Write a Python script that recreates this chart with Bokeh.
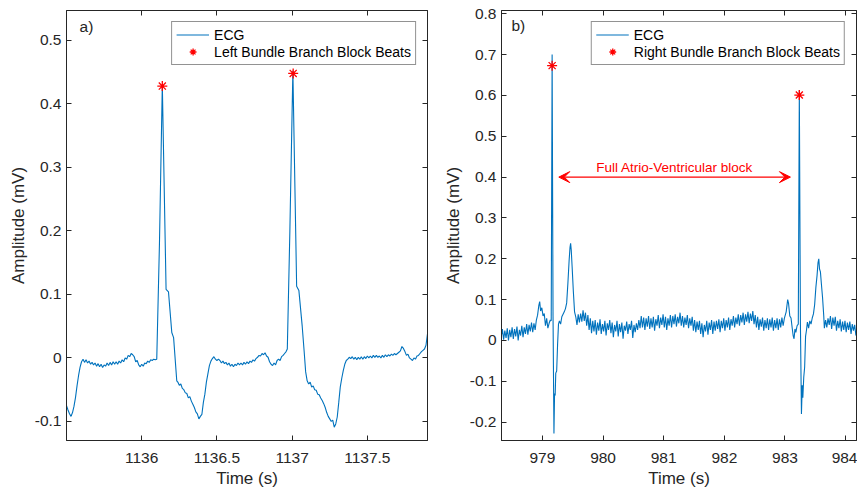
from bokeh.plotting import figure
from bokeh.layouts import row
from bokeh.models import (Range1d, LinearAxis, FixedTicker, CustomJSTickFormatter,
                          Arrow, VeeHead, Label)
from bokeh.embed import file_html
from bokeh.resources import INLINE

# ---------------- data: panel a) (LBBB) ----------------
ecg_a_time = [
    1135.50, 1135.51, 1135.52, 1135.53, 1135.54, 1135.55, 1135.56, 1135.57, 1135.58, 1135.59,
    1135.60, 1135.61, 1135.62, 1135.63, 1135.64, 1135.65, 1135.66, 1135.67, 1135.68, 1135.69,
    1135.70, 1135.71, 1135.72, 1135.73, 1135.74, 1135.75, 1135.76, 1135.77, 1135.78, 1135.79,
    1135.80, 1135.81, 1135.82, 1135.83, 1135.84, 1135.85, 1135.86, 1135.87, 1135.88, 1135.89,
    1135.90, 1135.91, 1135.92, 1135.93, 1135.94, 1135.95, 1135.96, 1135.97, 1135.98, 1135.99,
    1136.00, 1136.01, 1136.02, 1136.03, 1136.04, 1136.05, 1136.06, 1136.07, 1136.08, 1136.09,
    1136.100, 1136.118, 1136.137, 1136.162, 1136.178, 1136.200, 1136.212, 1136.233,
    1136.24, 1136.25, 1136.26, 1136.27, 1136.28, 1136.29, 1136.30, 1136.31, 1136.32, 1136.33,
    1136.34, 1136.35, 1136.36, 1136.37, 1136.38, 1136.39, 1136.40, 1136.41, 1136.42, 1136.43,
    1136.44, 1136.45, 1136.46, 1136.47, 1136.48, 1136.49, 1136.50, 1136.51, 1136.52, 1136.53,
    1136.54, 1136.55, 1136.56, 1136.57, 1136.58, 1136.59, 1136.60, 1136.61, 1136.62, 1136.63,
    1136.64, 1136.65, 1136.66, 1136.67, 1136.68, 1136.69, 1136.70, 1136.71, 1136.72, 1136.73,
    1136.74, 1136.75, 1136.76, 1136.77, 1136.78, 1136.79, 1136.80, 1136.81, 1136.82, 1136.83,
    1136.84, 1136.85, 1136.86, 1136.87, 1136.88, 1136.89, 1136.90, 1136.91, 1136.92, 1136.93,
    1136.94, 1136.95, 1136.96,
    1136.968, 1136.985, 1137.005, 1137.030, 1137.045, 1137.067, 1137.080, 1137.090,
    1137.10, 1137.11, 1137.12, 1137.13, 1137.14, 1137.15, 1137.16, 1137.17, 1137.18, 1137.19,
    1137.20, 1137.21, 1137.22, 1137.23, 1137.24, 1137.25, 1137.26, 1137.27, 1137.28, 1137.29,
    1137.30, 1137.31, 1137.32, 1137.33, 1137.34, 1137.35, 1137.36, 1137.37, 1137.38, 1137.39,
    1137.40, 1137.41, 1137.42, 1137.43, 1137.44, 1137.45, 1137.46, 1137.47, 1137.48, 1137.49,
    1137.50, 1137.51, 1137.52, 1137.53, 1137.54, 1137.55, 1137.56, 1137.57, 1137.58, 1137.59,
    1137.60, 1137.61, 1137.62, 1137.63, 1137.64, 1137.65, 1137.66, 1137.67, 1137.68, 1137.69,
    1137.70, 1137.71, 1137.72, 1137.73, 1137.74, 1137.75, 1137.76, 1137.77, 1137.78, 1137.79,
    1137.80, 1137.81, 1137.82, 1137.83, 1137.84, 1137.85, 1137.86, 1137.87, 1137.88, 1137.89,
    1137.90,
]
ecg_a_mv = [
    -0.075, -0.082, -0.088, -0.092, -0.086, -0.076, -0.062, -0.044, -0.028, -0.015,
    -0.006, -0.002, -0.007, -0.003, -0.008, -0.005, -0.010, -0.007, -0.011, -0.008,
    -0.013, -0.009, -0.014, -0.010, -0.015, -0.011, -0.013, -0.008, -0.012, -0.007,
    -0.011, -0.006, -0.010, -0.006, -0.010, -0.005, -0.008, -0.003, -0.006, 0.000,
    -0.002, 0.004, 0.002, 0.007, 0.005, 0.002, -0.006, -0.004, -0.011, -0.014,
    -0.010, -0.013, -0.008, -0.009, -0.005, -0.007, -0.003, -0.004, -0.002, -0.003,
    -0.002, 0.180, 0.430, 0.108, 0.104, 0.040, 0.032, -0.036,
    -0.038, -0.043, -0.041, -0.048, -0.050, -0.055, -0.056, -0.063, -0.061, -0.068,
    -0.073, -0.078, -0.085, -0.088, -0.096, -0.092, -0.089, -0.070, -0.057, -0.038,
    -0.025, -0.012, -0.005, -0.001, 0.002, -0.002, -0.004, -0.002, -0.004, -0.008,
    -0.005, -0.009, -0.007, -0.011, -0.008, -0.013, -0.010, -0.014, -0.010, -0.012,
    -0.008, -0.011, -0.008, -0.011, -0.007, -0.010, -0.006, -0.009, -0.005, -0.007,
    -0.003, -0.005, -0.001, 0.001, 0.004, 0.003, 0.007, 0.005, 0.008, 0.003,
    0.001, -0.006, -0.010, -0.012, -0.008, -0.011, -0.004, -0.002, -0.004, 0.002,
    0.004, 0.007, 0.010,
    0.014, 0.200, 0.452, 0.113, 0.106, 0.050, 0.010, -0.022,
    -0.036, -0.041, -0.038, -0.046, -0.044, -0.050, -0.051, -0.057, -0.058, -0.063,
    -0.067, -0.072, -0.078, -0.086, -0.092, -0.096, -0.100, -0.098, -0.109, -0.104,
    -0.093, -0.070, -0.046, -0.032, -0.020, -0.010, -0.004, -0.002, 0.001, -0.001,
    0.002, -0.002, 0.001, -0.003, 0.001, -0.002, 0.002, -0.002, 0.002, -0.001,
    0.003, 0.000, 0.003, 0.000, 0.004, 0.001, 0.004, 0.001, 0.003, 0.000,
    0.004, 0.001, 0.005, 0.002, 0.005, 0.003, 0.006, 0.004, 0.007, 0.005,
    0.007, 0.009, 0.011, 0.018, 0.015, 0.010, 0.004, 0.006, 0.000, -0.002,
    -0.004, 0.000, -0.002, 0.003, 0.004, 0.007, 0.010, 0.012, 0.014, 0.020,
    0.038,
]
lbbb_time = [1136.137, 1137.007]
lbbb_mv = [0.428, 0.448]

# ---------------- data: panel b) (RBBB) ----------------
ecg_b_time = [
    978.32, 978.34, 978.36, 978.38, 978.40, 978.42, 978.44, 978.46, 978.48, 978.50,
    978.52, 978.54, 978.56, 978.58, 978.60, 978.62, 978.64, 978.66, 978.68, 978.70,
    978.72, 978.74, 978.76, 978.78, 978.80, 978.82, 978.84, 978.86, 978.88, 978.90,
    978.92,
    978.940, 978.955, 978.970, 978.990, 979.010, 979.030, 979.050, 979.070, 979.090, 979.110,
    979.130, 979.145, 979.160, 979.175, 979.190, 979.200, 979.210, 979.220, 979.235, 979.250,
    979.265, 979.280, 979.300, 979.320, 979.340, 979.360, 979.380, 979.400, 979.420, 979.440,
    979.455, 979.465, 979.475, 979.490, 979.510, 979.530, 979.550,
    979.57, 979.59, 979.61, 979.63, 979.65, 979.67, 979.69, 979.71, 979.73, 979.75,
    979.77, 979.79, 979.81, 979.83, 979.85, 979.87, 979.89, 979.91, 979.93, 979.95,
    979.97, 979.99, 980.01, 980.03, 980.05, 980.07, 980.09, 980.11, 980.13, 980.15,
    980.17, 980.19, 980.21, 980.23, 980.25, 980.27, 980.29, 980.31, 980.33, 980.35,
    980.37, 980.39, 980.41, 980.43, 980.45, 980.47, 980.49, 980.51, 980.53, 980.55,
    980.57, 980.59, 980.61, 980.63, 980.65, 980.67, 980.69, 980.71, 980.73, 980.75,
    980.77, 980.79, 980.81, 980.83, 980.85, 980.87, 980.89, 980.91, 980.93, 980.95,
    980.97, 980.99, 981.01, 981.03, 981.05, 981.07, 981.09, 981.11, 981.13, 981.15,
    981.17, 981.19, 981.21, 981.23, 981.25, 981.27, 981.29, 981.31, 981.33, 981.35,
    981.37, 981.39, 981.41, 981.43, 981.45, 981.47, 981.49, 981.51, 981.53, 981.55,
    981.57, 981.59, 981.61, 981.63, 981.65, 981.67, 981.69, 981.71, 981.73, 981.75,
    981.77, 981.79, 981.81, 981.83, 981.85, 981.87, 981.89, 981.91, 981.93, 981.95,
    981.97, 981.99, 982.01, 982.03, 982.05, 982.07, 982.09, 982.11, 982.13, 982.15,
    982.17, 982.19, 982.21, 982.23, 982.25, 982.27, 982.29, 982.31, 982.33, 982.35,
    982.37, 982.39, 982.41, 982.43, 982.45, 982.47, 982.49, 982.51, 982.53, 982.55,
    982.57, 982.59, 982.61, 982.63, 982.65, 982.67, 982.69, 982.71, 982.73, 982.75,
    982.77, 982.79, 982.81, 982.83, 982.85, 982.87, 982.89, 982.91, 982.93, 982.95,
    982.97, 982.99,
    983.020, 983.045, 983.060, 983.080, 983.100, 983.120, 983.135, 983.150, 983.165, 983.180,
    983.200, 983.220, 983.237, 983.255, 983.272, 983.285, 983.295, 983.310, 983.325, 983.340,
    983.355, 983.370, 983.390, 983.410, 983.430, 983.450, 983.470, 983.490, 983.510, 983.530,
    983.545, 983.558, 983.570, 983.585, 983.600, 983.620, 983.640, 983.650,
    983.67, 983.69, 983.71, 983.73, 983.75, 983.77, 983.79, 983.81, 983.83, 983.85,
    983.87, 983.89, 983.91, 983.93, 983.95, 983.97, 983.99, 984.01, 984.03, 984.05,
    984.07, 984.09, 984.11, 984.13, 984.15, 984.17, 984.19,
]
ecg_b_mv = [
    0.008, 0.028, 0.002, 0.024, 0.006, 0.030, 0.000, 0.026, 0.008, 0.032,
    0.004, 0.028, 0.010, 0.034, 0.000, 0.026, 0.012, 0.036, 0.008, 0.032,
    0.016, 0.040, 0.014, 0.038, 0.022, 0.044, 0.020, 0.042, 0.026, 0.050,
    0.062,
    0.085, 0.095, 0.072, 0.080, 0.060, 0.066, 0.036, 0.054, 0.030, 0.042,
    0.050, 0.048, 0.700, 0.060, -0.228, -0.130, -0.135, -0.080, -0.075, -0.010,
    0.040, 0.048, 0.040, 0.058, 0.064, 0.070, 0.078, 0.092, 0.140, 0.195,
    0.228, 0.238, 0.222, 0.180, 0.120, 0.070, 0.058,
    0.038, 0.064, 0.044, 0.066, 0.046, 0.074, 0.048, 0.068, 0.036, 0.062,
    0.026, 0.054, 0.018, 0.048, 0.022, 0.050, 0.014, 0.044, 0.024, 0.052,
    0.016, 0.040, 0.022, 0.048, 0.012, 0.042, 0.026, 0.050, 0.018, 0.044,
    0.008, 0.038, 0.022, 0.048, 0.010, 0.040, 0.020, 0.044, 0.004, 0.036,
    0.024, 0.046, 0.016, 0.040, 0.026, 0.048, 0.006, 0.038, 0.020, 0.042,
    0.026, 0.050, 0.030, 0.060, 0.032, 0.056, 0.026, 0.054, 0.034, 0.060,
    0.028, 0.054, 0.032, 0.058, 0.024, 0.052, 0.036, 0.062, 0.030, 0.056,
    0.038, 0.064, 0.032, 0.058, 0.026, 0.054, 0.036, 0.062, 0.032, 0.060,
    0.040, 0.064, 0.034, 0.058, 0.042, 0.068, 0.036, 0.060, 0.032, 0.056,
    0.038, 0.062, 0.030, 0.054, 0.036, 0.058, 0.024, 0.050, 0.020, 0.046,
    0.026, 0.048, 0.016, 0.042, 0.008, 0.038, 0.022, 0.048, 0.014, 0.044,
    0.026, 0.050, 0.016, 0.046, 0.024, 0.048, 0.028, 0.052, 0.020, 0.048,
    0.030, 0.054, 0.024, 0.050, 0.032, 0.056, 0.026, 0.052, 0.036, 0.060,
    0.032, 0.056, 0.040, 0.064, 0.036, 0.062, 0.044, 0.068, 0.038, 0.064,
    0.046, 0.070, 0.042, 0.066, 0.048, 0.072, 0.040, 0.062, 0.032, 0.058,
    0.026, 0.052, 0.034, 0.056, 0.024, 0.050, 0.030, 0.054, 0.026, 0.052,
    0.032, 0.056, 0.024, 0.050, 0.030, 0.054, 0.026, 0.052, 0.032, 0.056,
    0.036, 0.054,
    0.070, 0.100, 0.090, 0.060, 0.055, 0.030, 0.012, 0.004, 0.028, 0.020,
    0.036, 0.040, 0.613, 0.040, -0.180, -0.110, -0.140, -0.090, -0.065, 0.010,
    0.025, 0.045, 0.030, 0.048, 0.040, 0.055, 0.065, 0.088, 0.130, 0.160,
    0.190, 0.200, 0.175, 0.168, 0.140, 0.105, 0.060, 0.030,
    0.050, 0.032, 0.054, 0.038, 0.060, 0.028, 0.056, 0.036, 0.058, 0.024,
    0.048, 0.030, 0.052, 0.022, 0.046, 0.026, 0.048, 0.020, 0.044, 0.026,
    0.046, 0.016, 0.040, 0.024, 0.038, 0.012, 0.022,
]
rbbb_time = [979.16, 983.237]
rbbb_mv = [0.673, 0.601]

# annotation in panel b)
block_span = [979.27, 983.09]
block_level = 0.40
block_text = "Full Atrio-Ventricular block"

# ticks
xticks_a = [1136, 1136.5, 1137, 1137.5]
yticks_a = [-0.1, 0, 0.1, 0.2, 0.3, 0.4, 0.5]
xticks_b = [979, 980, 981, 982, 983, 984]
yticks_b = [-0.2, -0.1, 0, 0.1, 0.2, 0.3, 0.4, 0.5, 0.6, 0.7, 0.8]

assert len(ecg_a_time) == len(ecg_a_mv)
assert len(ecg_b_time) == len(ecg_b_mv)

FONT = "Liberation Sans"
DARK = "#262626"
BLUE = "#0072BD"
TICK_FS = "15.5px"
LABEL_FS = "17px"
HEIGHT = 490


def make_panel(width, border_left, border_right, xr, yr, xticks, yticks):
    p = figure(width=width, height=HEIGHT, x_range=Range1d(*xr), y_range=Range1d(*yr),
               output_backend="svg", toolbar_location=None,
               min_border_left=border_left, min_border_right=border_right,
               min_border_top=10, min_border_bottom=50,
               background_fill_color="white", border_fill_color="white")
    p.grid.visible = False
    p.outline_line_color = DARK
    p.outline_line_width = 1
    fmt = CustomJSTickFormatter(code="return String(Math.round(tick*1000)/1000);")
    for ax, ticks in ((p.xaxis[0], xticks), (p.yaxis[0], yticks)):
        ax.ticker = FixedTicker(ticks=ticks)
        ax.formatter = fmt
        ax.major_tick_in = 5
        ax.major_tick_out = 0
        ax.minor_tick_line_color = None
        ax.axis_line_color = DARK
        ax.major_tick_line_color = DARK
        ax.major_label_text_color = DARK
        ax.major_label_text_font = FONT
        ax.major_label_text_font_size = TICK_FS
        ax.axis_label_text_font = FONT
        ax.axis_label_text_font_size = LABEL_FS
        ax.axis_label_text_font_style = "normal"
        ax.axis_label_text_color = DARK
    p.xaxis[0].major_label_standoff = 12
    p.xaxis[0].axis_label_standoff = 3
    p.yaxis[0].major_label_standoff = 5
    p.yaxis[0].axis_label_standoff = 4
    p.xaxis[0].axis_label = "Time (s)"
    p.yaxis[0].axis_label = "Amplitude (mV)"
    blank = CustomJSTickFormatter(code="return '';")
    for side, ticks in (("above", xticks), ("right", yticks)):
        ax = LinearAxis(ticker=FixedTicker(ticks=ticks), formatter=blank,
                        major_tick_in=5, major_tick_out=0,
                        minor_tick_line_color=None,
                        axis_line_color=DARK, major_tick_line_color=DARK,
                        major_label_text_font_size="1px", major_label_standoff=0)
        p.add_layout(ax, side)
    return p


def style_legend(p):
    lg = p.legend[0]
    lg.location = "top_right"
    lg.margin = 11
    lg.padding = 4
    lg.spacing = 0
    lg.glyph_width = 33
    lg.glyph_height = 17
    lg.label_height = 17
    lg.label_standoff = 5
    lg.label_text_font = FONT
    lg.label_text_font_size = "14px"
    lg.label_text_color = "black"
    lg.border_line_color = DARK
    lg.border_line_width = 1
    lg.background_fill_color = "white"
    lg.background_fill_alpha = 1.0


# ---------------- panel a ----------------
pa = make_panel(440, 66, 13, (1135.5, 1137.9), (-0.13, 0.547), xticks_a, yticks_a)
pa.line(ecg_a_time, ecg_a_mv, line_color=BLUE, line_width=1.1, legend_label="ECG")
pa.scatter(lbbb_time, lbbb_mv, marker="asterisk", size=10, line_color="#FF0000",
           line_width=1.3, legend_label="Left Bundle Branch Block Beats")
style_legend(pa)
pa.add_layout(Label(x=1135.587, y=0.535, text="a)", text_font=FONT, text_font_size="15.5px",
                    text_color=DARK, text_baseline="top", text_align="left"))

# ---------------- panel b ----------------
pb = make_panel(417, 54, 1, (978.325, 984.18), (-0.245, 0.808), xticks_b, yticks_b)
pb.line(ecg_b_time, ecg_b_mv, line_color=BLUE, line_width=1.1, legend_label="ECG")
pb.scatter(rbbb_time, rbbb_mv, marker="asterisk", size=10, line_color="#FF0000",
           line_width=1.3, legend_label="Right Bundle Branch Block Beats")
style_legend(pb)
pb.add_layout(Label(x=978.49, y=0.792, text="b)", text_font=FONT, text_font_size="15.5px",
                    text_color=DARK, text_baseline="top", text_align="left"))
pb.add_layout(Arrow(x_start=block_span[0], y_start=block_level,
                    x_end=block_span[1], y_end=block_level,
                    line_color="#FF0000", line_width=1.2,
                    start=VeeHead(size=11, fill_color="#FF0000", line_color="#FF0000"),
                    end=VeeHead(size=11, fill_color="#FF0000", line_color="#FF0000")))
pb.add_layout(Label(x=(block_span[0] + block_span[1]) / 2, y=block_level + 0.006,
                    text=block_text, text_font=FONT, text_font_size="13.5px",
                    text_color="#FF0000", text_align="center", text_baseline="bottom"))

layout = row(pa, pb)
open("out.html", "w").write(file_html(layout, INLINE))
